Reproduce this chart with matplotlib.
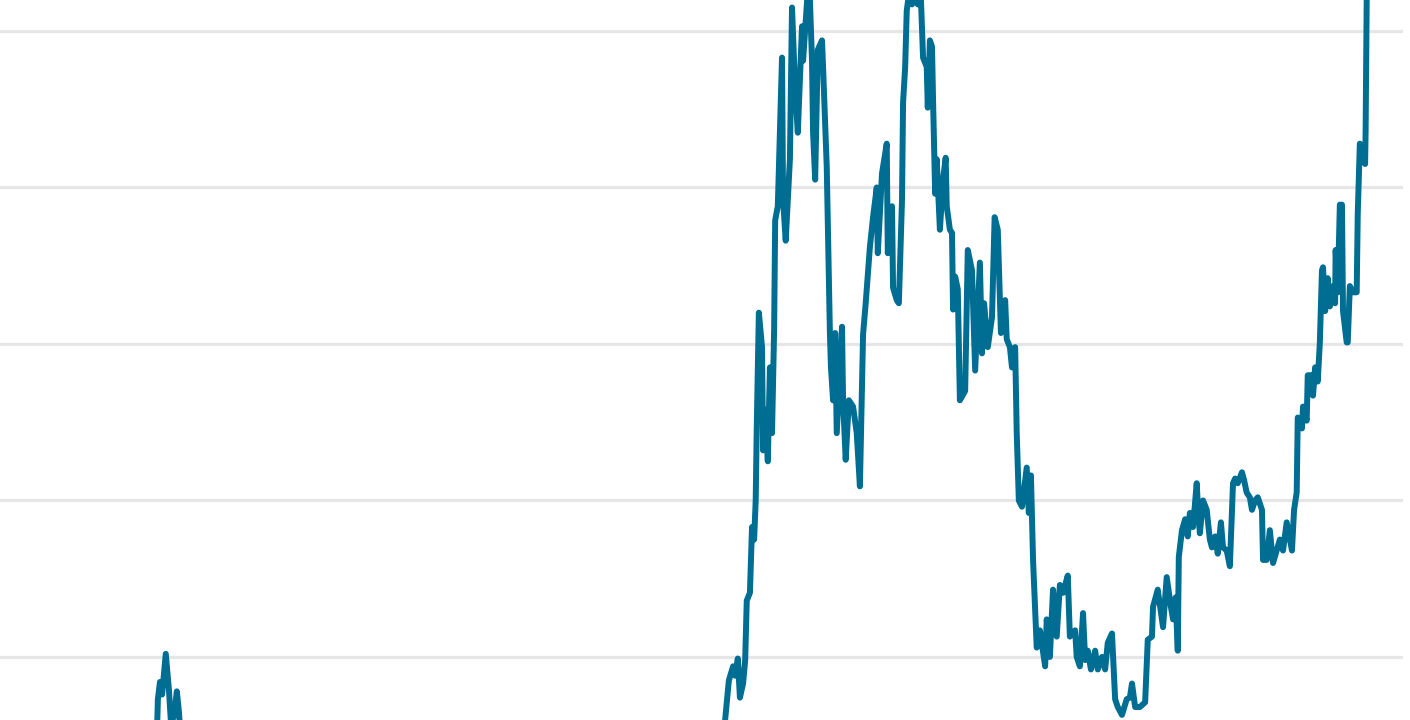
import matplotlib
matplotlib.use("Agg")
import matplotlib.pyplot as plt

# time index (days from start) and price (thousands of USD)
days = [0, 100, 200, 250, 280, 295,
        300, 304, 308, 315, 321, 325, 331, 336, 340, 346,
        380, 420, 470, 550, 650, 700, 760, 850, 920, 960, 990, 1050, 1100,
        1170, 1240, 1290, 1340, 1365,
        1376, 1385, 1393, 1397, 1402, 1406, 1412, 1416, 1419, 1425, 1429,
        1433, 1436, 1438, 1442, 1448, 1450, 1454, 1459, 1463, 1467, 1471,
        1473, 1478, 1486, 1488, 1493, 1497, 1501, 1505, 1511, 1516, 1524,
        1526, 1535, 1539, 1543, 1545, 1549, 1554, 1562, 1564, 1571, 1577,
        1579, 1583, 1587, 1590, 1600, 1602, 1607, 1613, 1621, 1628, 1634,
        1640, 1645, 1653, 1659, 1666, 1668, 1676, 1685, 1687, 1695, 1697,
        1704, 1708, 1714, 1716, 1720, 1723, 1727, 1733, 1739, 1744, 1750,
        1754, 1761, 1763, 1767, 1771, 1773, 1777, 1780, 1786, 1792, 1797,
        1799, 1805, 1809, 1811, 1815, 1820, 1824, 1834, 1839, 1847, 1853,
        1862, 1866, 1870, 1877, 1885, 1890, 1896, 1902, 1910, 1913, 1919,
        1923, 1929, 1932, 1936, 1942, 1951, 1955, 1959, 1963, 1967, 1970,
        1976, 1986, 1989, 1995, 2001, 2008, 2014, 2020, 2029, 2033, 2043,
        2046, 2052, 2058, 2062, 2067, 2073, 2081, 2086, 2094, 2100, 2105,
        2113, 2119, 2124, 2132, 2141, 2147, 2151, 2157, 2166, 2176, 2181,
        2189, 2191, 2200, 2210, 2217, 2225, 2229, 2234, 2238, 2240, 2246,
        2252, 2257, 2261, 2267, 2274, 2276, 2280, 2286, 2293, 2299, 2303,
        2309, 2314, 2320, 2324, 2331, 2337, 2343, 2347, 2352, 2360, 2364,
        2369, 2375, 2379, 2385, 2390, 2398, 2400, 2407, 2413, 2419, 2426,
        2432, 2438, 2445, 2451, 2455, 2459, 2464, 2466, 2474, 2476, 2483,
        2485, 2493, 2495, 2499, 2504, 2508, 2512, 2514, 2518, 2523, 2527,
        2533, 2537, 2538, 2542, 2546, 2550, 2552, 2559, 2561, 2565, 2571,
        2578, 2580, 2584, 2588, 2594, 2595, 2597, 2599]

price_k = [1.0, 1.8, 4.2, 4.5, 7.3, 11.0,
           17.3, 18.4, 17.6, 20.2, 17.9, 15.7, 16.3, 17.8, 16.5, 13.4,
           11.0, 8.5, 7.0, 6.5, 6.3, 4.0, 3.4, 4.0, 8.0, 11.5, 9.5, 10.2, 8.0,
           7.2, 9.5, 5.0, 11.0, 14.5,
           15.3, 18.5, 19.4, 18.8, 19.9, 17.4, 18.3, 19.8, 23.6, 24.1, 28.3,
           27.5, 30.0, 34.7, 42.0, 39.8, 33.2, 35.8, 32.5, 38.5, 34.3, 40.9,
           47.9, 48.8, 58.3, 49.2, 46.6, 49.2, 51.8, 61.5, 56.2, 53.5, 60.3,
           58.1, 62.6, 62.0, 58.1, 53.5, 50.5, 58.8, 59.4, 57.7, 51.3, 40.7,
           38.5, 36.4, 40.7, 34.3, 41.1, 36.4, 32.6, 36.4, 36.0, 34.3, 30.9,
           40.6, 42.6, 46.2, 48.1, 50.0, 45.8, 50.9, 52.8, 45.8, 48.8, 43.6,
           42.8, 42.6, 49.2, 55.4, 57.7, 61.3, 62.3, 61.7, 62.3, 61.7, 62.0,
           58.3, 57.7, 55.1, 59.4, 59.0, 55.6, 49.6, 51.8, 47.3, 50.5, 51.9,
           48.8, 47.3, 47.1, 42.2, 44.3, 43.5, 36.4, 37.0, 46.0, 44.7, 38.3,
           45.2, 39.4, 42.6, 39.8, 41.7, 48.1, 47.3, 40.7, 42.8, 40.3, 39.8,
           38.5, 39.8, 34.3, 30.0, 29.6, 32.1, 29.2, 31.6, 26.2, 23.0, 20.6,
           21.7, 19.4, 22.4, 20.0, 24.3, 21.3, 24.6, 24.1, 25.2, 21.3, 21.7,
           20.0, 19.4, 22.8, 19.8, 20.4, 19.2, 20.4, 19.2, 20.0, 19.2, 20.9,
           21.5, 17.3, 16.8, 16.3, 17.3, 17.4, 18.3, 16.8, 16.8, 17.1, 21.1,
           21.3, 23.2, 24.3, 21.9, 25.1, 23.2, 22.4, 23.8, 20.4, 26.4, 28.1,
           28.8, 27.7, 29.2, 28.3, 31.1, 29.8, 27.9, 30.0, 29.4, 27.5, 27.0,
           27.7, 26.6, 28.6, 27.0, 26.8, 25.8, 31.1, 31.4, 31.1, 31.8, 31.3,
           30.5, 30.2, 29.4, 30.0, 30.2, 29.4, 26.2, 26.2, 28.1, 26.0, 26.8,
           27.5, 26.8, 28.6, 27.5, 26.8, 29.4, 30.5, 35.3, 34.6, 36.0, 35.1,
           38.0, 38.0, 36.7, 38.5, 37.6, 40.1, 44.7, 44.9, 42.1, 44.2, 42.4,
           43.7, 42.6, 46.0, 43.3, 48.9, 48.9, 42.1, 40.1, 40.1, 43.7, 43.3,
           43.3, 48.3, 52.8, 52.4, 51.5, 53.7, 62.0, 65.8]

grid_values = [20, 30, 40, 50, 60]

LINE_COLOR = "#006e92"
GRID_COLOR = "#e6e6e6"

fig = plt.figure(figsize=(14.1, 7.2), dpi=100)
ax = fig.add_axes([0, 0, 1403 / 1410, 1])

for g in grid_values:
    ax.axhline(g, color=GRID_COLOR, linewidth=2.3, zorder=1)

ax.plot(days, price_k, color=LINE_COLOR, linewidth=4.3,
        solid_joinstyle="round", solid_capstyle="round", zorder=3)

ax.set_xlim(0, 2666)
ax.set_ylim(15.97, 61.98)
ax.set_xticks([])
ax.set_yticks([])
for s in ax.spines.values():
    s.set_visible(False)
ax.set_facecolor("white")
fig.patch.set_facecolor("white")

fig.savefig("out.png", dpi=100)
